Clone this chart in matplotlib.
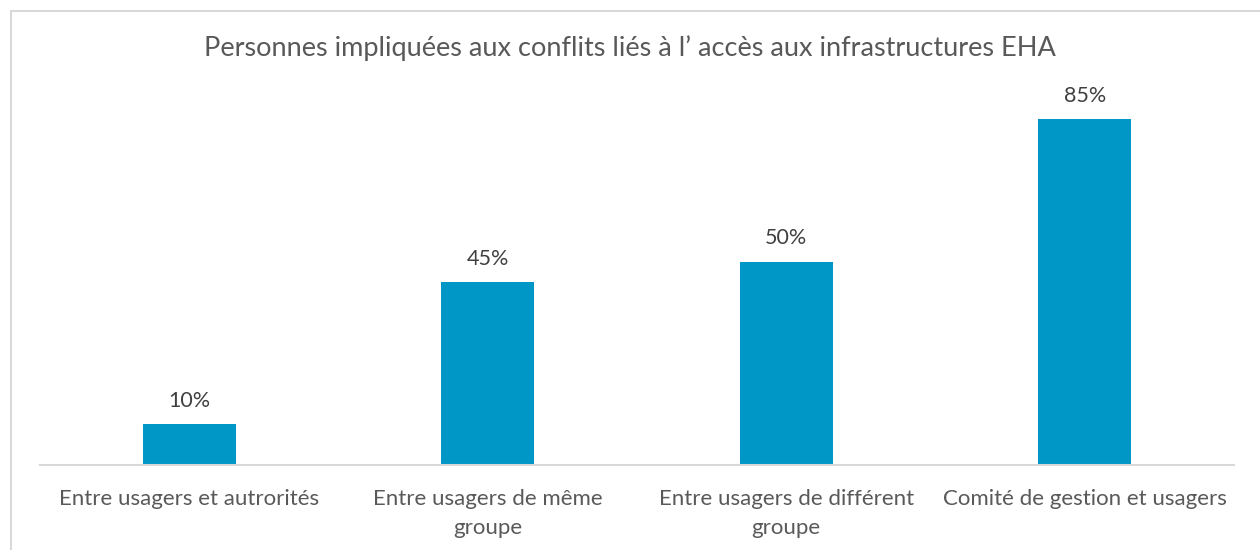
import matplotlib.pyplot as plt
from matplotlib.patches import Rectangle

categories = ["Entre usagers et autrorités", "Entre usagers de même\ngroupe",
              "Entre usagers de différent\ngroupe", "Comité de gestion et usagers"]
values = [10, 45, 50, 85]
title = "Personnes impliquées aux conflits liés à l’ accès aux infrastructures EHA"

plt.rcParams['font.family'] = ['Lato', 'DejaVu Sans']
grey = '#595959'

fig = plt.figure(figsize=(12.6, 5.5), dpi=100)
ax = fig.add_axes([40 / 1260, 1 - 465 / 550, 1194 / 1260, 366 / 550])

x = range(len(categories))
bars = ax.bar(x, values, width=0.31, color='#0096C6')
for b, v in zip(bars, values):
    ax.text(b.get_x() + b.get_width() / 2, v + 3.3, f"{v}%", ha='center', va='bottom',
            fontsize=15.5, color='#404040')

ax.set_xlim(-0.5, len(categories) - 0.5)
ax.set_ylim(0, 90)
ax.set_xticks(list(x))
ax.set_xticklabels(categories, fontsize=16, color=grey, linespacing=1.57)
ax.tick_params(axis='x', length=0, pad=17)
ax.set_yticks([])
for s in ['top', 'right', 'left']:
    ax.spines[s].set_visible(False)
ax.spines['bottom'].set_color('#D9D9D9')
ax.spines['bottom'].set_linewidth(1.5)

fig.text(0.5, 1 - 48 / 550, title, ha='center', va='center', fontsize=19.5, color=grey)

fig.patches.append(Rectangle((11 / 1260, -0.1), 1.2, 1 - 11 / 550 + 0.1, transform=fig.transFigure,
                             fill=False, edgecolor='#D9D9D9', linewidth=1.5))

fig.savefig('out.png', dpi=100)
